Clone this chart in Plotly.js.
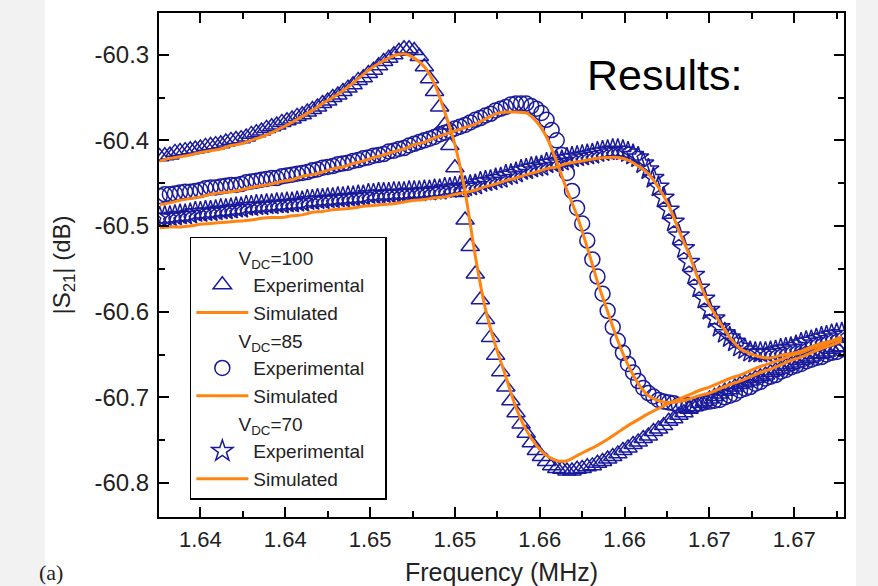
<!DOCTYPE html>
<html><head><meta charset="utf-8">
<script src="https://cdn.plot.ly/plotly-3.0.1.min.js"></script>
<style>
html,body{margin:0;padding:0;width:878px;height:586px;overflow:hidden;background:#f2f2f2;}
#bgw{position:absolute;left:45px;top:0;width:811px;height:586px;background:#ffffff;}
#chart{position:absolute;left:0;top:0;width:878px;height:586px;}
</style></head><body>
<div id="bgw"></div><div id="chart"></div>
<script>
// Frequency (MHz) of the experimental samples
const freqExp = [1.6376,1.6379,1.6382,1.6385,1.6388,1.6391,1.6394,1.6397,1.6400,1.6403,
1.6406,1.6409,1.6412,1.6415,1.6418,1.6421,1.6424,1.6427,1.6430,1.6433,
1.6436,1.6439,1.6442,1.6445,1.6448,1.6451,1.6454,1.6457,1.6460,1.6463,
1.6466,1.6469,1.6472,1.6475,1.6478,1.6481,1.6484,1.6487,1.6490,1.6493,
1.6496,1.6499,1.6502,1.6505,1.6508,1.6511,1.6514,1.6517,1.6520,1.6523,
1.6526,1.6529,1.6532,1.6535,1.6538,1.6541,1.6544,1.6547,1.6550,1.6553,
1.6556,1.6559,1.6562,1.6565,1.6568,1.6571,1.6574,1.6577,1.6580,1.6583,
1.6586,1.6589,1.6592,1.6595,1.6598,1.6601,1.6604,1.6607,1.6610,1.6613,
1.6616,1.6619,1.6622,1.6625,1.6628,1.6631,1.6634,1.6637,1.6640,1.6643,
1.6646,1.6649,1.6652,1.6655,1.6658,1.6661,1.6664,1.6667,1.6670,1.6673,
1.6676,1.6679,1.6682,1.6685,1.6688,1.6691,1.6694,1.6697,1.6700,1.6703,
1.6706,1.6709,1.6712,1.6715,1.6718,1.6721,1.6724,1.6727,1.6730,1.6733,
1.6736,1.6739,1.6742,1.6745,1.6748,1.6751,1.6754,1.6757,1.6760,1.6763,
1.6766,1.6769,1.6772,1.6775,1.6778];

// Frequency (MHz) of the simulated curves
const freqSim = [1.6376,1.6382,1.6388,1.6394,1.6400,1.6406,1.6412,1.6418,1.6424,1.6430,
1.6436,1.6442,1.6448,1.6454,1.6460,1.6466,1.6472,1.6478,1.6484,1.6490,
1.6496,1.6502,1.6508,1.6514,1.6520,1.6526,1.6532,1.6538,1.6544,1.6550,
1.6556,1.6562,1.6568,1.6574,1.6580,1.6586,1.6592,1.6598,1.6604,1.6610,
1.6616,1.6622,1.6628,1.6634,1.6640,1.6646,1.6652,1.6658,1.6664,1.6670,
1.6676,1.6682,1.6688,1.6694,1.6700,1.6706,1.6712,1.6718,1.6724,1.6730,
1.6736,1.6742,1.6748,1.6754,1.6760,1.6766,1.6772,1.6778];

// |S21| (dB), experimental
const exp100 = [-60.419,-60.418,-60.417,-60.414,-60.413,-60.412,-60.411,-60.410,-60.409,-60.407,
-60.406,-60.405,-60.404,-60.402,-60.400,-60.399,-60.398,-60.396,-60.393,-60.391,
-60.389,-60.386,-60.384,-60.382,-60.379,-60.377,-60.375,-60.372,-60.370,-60.367,
-60.364,-60.361,-60.357,-60.354,-60.350,-60.347,-60.343,-60.339,-60.335,-60.330,
-60.327,-60.322,-60.318,-60.313,-60.308,-60.304,-60.300,-60.296,-60.293,-60.293,
-60.295,-60.302,-60.314,-60.328,-60.343,-60.361,-60.382,-60.406,-60.432,-60.461,
-60.493,-60.524,-60.556,-60.586,-60.609,-60.630,-60.651,-60.670,-60.688,-60.704,
-60.718,-60.731,-60.742,-60.753,-60.762,-60.769,-60.775,-60.780,-60.783,-60.784,
-60.786,-60.786,-60.784,-60.783,-60.781,-60.780,-60.777,-60.775,-60.772,-60.769,
-60.766,-60.762,-60.759,-60.755,-60.752,-60.748,-60.745,-60.740,-60.737,-60.733,
-60.728,-60.725,-60.721,-60.718,-60.714,-60.711,-60.707,-60.705,-60.702,-60.699,
-60.696,-60.693,-60.691,-60.688,-60.685,-60.683,-60.681,-60.678,-60.676,-60.674,
-60.671,-60.669,-60.667,-60.664,-60.662,-60.660,-60.657,-60.655,-60.653,-60.650,
-60.649,-60.647,-60.644,-60.642,-60.641];

const exp85 = [-60.465,-60.463,-60.463,-60.462,-60.461,-60.460,-60.460,-60.459,-60.458,-60.456,
-60.455,-60.455,-60.454,-60.453,-60.452,-60.452,-60.451,-60.449,-60.448,-60.447,
-60.446,-60.445,-60.444,-60.444,-60.442,-60.441,-60.440,-60.439,-60.438,-60.437,
-60.435,-60.434,-60.432,-60.431,-60.430,-60.428,-60.427,-60.426,-60.424,-60.423,
-60.421,-60.420,-60.418,-60.417,-60.416,-60.413,-60.412,-60.410,-60.409,-60.406,
-60.404,-60.402,-60.400,-60.398,-60.396,-60.393,-60.391,-60.389,-60.386,-60.384,
-60.382,-60.379,-60.376,-60.374,-60.371,-60.369,-60.365,-60.363,-60.361,-60.358,
-60.357,-60.357,-60.357,-60.360,-60.363,-60.368,-60.376,-60.388,-60.400,-60.417,
-60.438,-60.459,-60.479,-60.497,-60.517,-60.539,-60.559,-60.579,-60.599,-60.618,
-60.634,-60.648,-60.661,-60.671,-60.681,-60.689,-60.695,-60.699,-60.703,-60.705,
-60.706,-60.707,-60.709,-60.709,-60.709,-60.709,-60.707,-60.706,-60.705,-60.704,
-60.703,-60.700,-60.698,-60.696,-60.692,-60.690,-60.688,-60.684,-60.682,-60.678,
-60.676,-60.674,-60.670,-60.668,-60.665,-60.663,-60.661,-60.658,-60.656,-60.654,
-60.653,-60.650,-60.648,-60.647,-60.644];

const exp70 = [-60.490,-60.489,-60.489,-60.488,-60.487,-60.487,-60.486,-60.484,-60.484,-60.483,
-60.483,-60.482,-60.481,-60.481,-60.480,-60.479,-60.479,-60.477,-60.477,-60.476,
-60.476,-60.475,-60.475,-60.474,-60.474,-60.473,-60.473,-60.472,-60.472,-60.470,
-60.470,-60.469,-60.469,-60.468,-60.468,-60.467,-60.467,-60.466,-60.466,-60.465,
-60.465,-60.463,-60.463,-60.462,-60.462,-60.462,-60.461,-60.461,-60.461,-60.460,
-60.460,-60.460,-60.459,-60.459,-60.458,-60.458,-60.456,-60.456,-60.455,-60.454,
-60.454,-60.453,-60.452,-60.449,-60.448,-60.447,-60.445,-60.444,-60.441,-60.440,
-60.438,-60.435,-60.434,-60.432,-60.431,-60.430,-60.427,-60.426,-60.425,-60.424,
-60.421,-60.420,-60.419,-60.418,-60.417,-60.416,-60.414,-60.413,-60.412,-60.411,
-60.411,-60.412,-60.414,-60.417,-60.420,-60.427,-60.434,-60.444,-60.454,-60.467,
-60.481,-60.495,-60.511,-60.526,-60.542,-60.557,-60.572,-60.585,-60.598,-60.608,
-60.618,-60.625,-60.630,-60.635,-60.641,-60.644,-60.647,-60.648,-60.648,-60.648,
-60.647,-60.646,-60.644,-60.643,-60.642,-60.640,-60.637,-60.635,-60.634,-60.632,
-60.630,-60.629,-60.627,-60.626,-60.625];

// |S21| (dB), simulated
const sim100 = [-60.424,-60.421,-60.419,-60.417,-60.414,-60.412,-60.410,-60.406,-60.404,-60.400,
-60.396,-60.391,-60.385,-60.379,-60.372,-60.365,-60.357,-60.350,-60.342,-60.333,
-60.323,-60.314,-60.307,-60.301,-60.299,-60.304,-60.314,-60.334,-60.367,-60.405,
-60.460,-60.535,-60.597,-60.640,-60.676,-60.712,-60.738,-60.756,-60.768,-60.774,
-60.774,-60.768,-60.762,-60.756,-60.749,-60.741,-60.733,-60.726,-60.719,-60.713,
-60.707,-60.702,-60.697,-60.692,-60.688,-60.683,-60.678,-60.674,-60.669,-60.664,
-60.660,-60.656,-60.651,-60.648,-60.643,-60.640,-60.635,-60.632];

const sim85 = [-60.475,-60.473,-60.470,-60.468,-60.466,-60.463,-60.461,-60.460,-60.458,-60.455,
-60.453,-60.451,-60.448,-60.446,-60.442,-60.440,-60.437,-60.433,-60.431,-60.427,
-60.424,-60.420,-60.417,-60.413,-60.410,-60.405,-60.402,-60.397,-60.393,-60.389,
-60.385,-60.381,-60.375,-60.369,-60.367,-60.367,-60.368,-60.378,-60.396,-60.425,
-60.458,-60.488,-60.525,-60.565,-60.600,-60.634,-60.662,-60.684,-60.698,-60.704,
-60.706,-60.705,-60.702,-60.698,-60.695,-60.690,-60.685,-60.681,-60.676,-60.671,
-60.667,-60.662,-60.657,-60.653,-60.648,-60.643,-60.639,-60.634];

const sim70 = [-60.502,-60.501,-60.501,-60.500,-60.498,-60.497,-60.496,-60.495,-60.494,-60.493,
-60.491,-60.490,-60.490,-60.488,-60.487,-60.484,-60.483,-60.481,-60.480,-60.479,
-60.477,-60.476,-60.475,-60.474,-60.472,-60.470,-60.469,-60.467,-60.466,-60.463,
-60.461,-60.458,-60.454,-60.451,-60.447,-60.444,-60.440,-60.437,-60.433,-60.431,
-60.427,-60.425,-60.423,-60.421,-60.420,-60.420,-60.423,-60.430,-60.439,-60.455,
-60.476,-60.505,-60.533,-60.565,-60.592,-60.612,-60.630,-60.643,-60.649,-60.653,
-60.654,-60.651,-60.649,-60.646,-60.641,-60.637,-60.634,-60.629];

// Axis ticks
const xTickVals = [1.640,1.645,1.650,1.655,1.660,1.665,1.670,1.675];
const xTickText = ['1.64','1.64','1.65','1.65','1.66','1.66','1.67','1.67'];
const xMinorVals = [1.6425,1.6475,1.6525,1.6575,1.6625,1.6675,1.6725,1.6775];
const yTickVals = [-60.3,-60.4,-60.5,-60.6,-60.7,-60.8];
const yTickText = ['-60.3','-60.4','-60.5','-60.6','-60.7','-60.8'];
const yMinorVals = [-60.35,-60.45,-60.55,-60.65,-60.75];

const groupNames = ['V<sub>DC</sub>=100','V<sub>DC</sub>=85','V<sub>DC</sub>=70'];
const groupIds = ['g100','g85','g70'];

const NAVY = '#1a1a9c';
const ORANGE = '#ff8412';
const indent = '\u00a0'.repeat(8);
const pad = '\u00a0'.repeat(3);
const gtFont = {size:19, color:'#222', family:'Liberation Sans, Arial, sans-serif'};

function expTrace(y, sym, sz, g, rank) {
  return {x: freqExp, y: y, type:'scatter', mode:'markers', name:'Experimental' + pad,
    legendgroup:g, legendrank:rank,
    legendgrouptitle:{text: indent + groupNames[groupIds.indexOf(g)], font:gtFont},
    marker:{symbol:sym, size:sz, color:NAVY, line:{color:NAVY, width:1.5}}};
}
function simTrace(y, g, rank) {
  return {x: freqSim, y: y, type:'scatter', mode:'lines', name:'Simulated',
    legendgroup:g, legendrank:rank,
    legendgrouptitle:{text: indent + groupNames[groupIds.indexOf(g)], font:gtFont},
    line:{color:ORANGE, width:3, shape:'spline', smoothing:0.8}};
}

const data = [
  expTrace(exp100, 'triangle-up-open', 16, 'g100', 1),
  expTrace(exp85, 'circle-open', 15, 'g85', 3),
  expTrace(exp70, 'star-open', 16, 'g70', 5),
  simTrace(sim100, 'g100', 2),
  simTrace(sim85, 'g85', 4),
  simTrace(sim70, 'g70', 6)
];

const axisCommon = {
  ticks:'inside', ticklen:10, tickwidth:2, tickcolor:'#000',
  showline:true, linecolor:'#000', linewidth:2, mirror:'ticks',
  showgrid:false, zeroline:false, tickmode:'array'
};

const layout = {
  width:878, height:586,
  paper_bgcolor:'rgba(0,0,0,0)', plot_bgcolor:'#ffffff',
  margin:{l:159, r:34, t:13, b:69, pad:0},
  font:{family:'Liberation Sans, Arial, sans-serif', color:'#222', size:22},
  showlegend:true,
  legend:{x:0.045, y:0.556, xanchor:'left', yanchor:'top', bgcolor:'#ffffff',
    bordercolor:'#000', borderwidth:1.5, font:{size:19, color:'#222'},
    tracegroupgap:0, itemwidth:52, traceorder:'grouped'},
  xaxis: Object.assign({}, axisCommon, {
    range:[1.63756, 1.67793], tickvals:xTickVals, ticktext:xTickText,
    tickfont:{size:22, color:'#222'}, ticklabelstandoff:2,
    minor:{tickmode:'array', tickvals:xMinorVals, ticks:'inside', ticklen:6, tickwidth:2, tickcolor:'#000'},
    title:{text:'Frequency (MHz)', font:{size:25, color:'#222'}, standoff:13}
  }),
  yaxis: Object.assign({}, axisCommon, {
    range:[-60.8397, -60.2513], tickvals:yTickVals, ticktext:yTickText,
    tickfont:{size:24, color:'#222'}, ticklabelstandoff:3,
    minor:{tickmode:'array', tickvals:yMinorVals, ticks:'inside', ticklen:6, tickwidth:2, tickcolor:'#000'},
    title:{text:'|S<sub>21</sub>| (dB)', font:{size:24, color:'#222'}, standoff:17}
  }),
  annotations:[
    {text:'Results:', xref:'paper', yref:'paper', x:0.622, y:0.877, xanchor:'left', yanchor:'middle',
     showarrow:false, font:{size:43, color:'#000', family:'Liberation Sans, Arial, sans-serif'}},
    {text:'(a)', xref:'paper', yref:'paper', x:-0.178, y:-0.111, xanchor:'left', yanchor:'middle',
     showarrow:false, font:{size:22, color:'#222', family:'Liberation Serif, Times New Roman, serif'}}
  ]
};

Plotly.newPlot('chart', data, layout, {displayModeBar:false, staticPlot:true});
</script>
</body></html>
